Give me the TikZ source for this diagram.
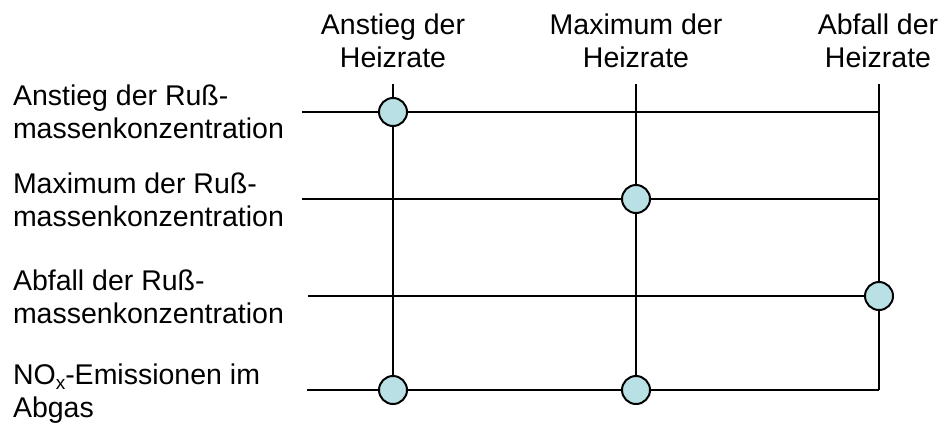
\documentclass[tikz,border=0pt]{standalone}
\usepackage{fontspec}
\setmainfont{Liberation Sans}
\definecolor{dotfill}{RGB}{185,224,228}
\newcommand{\lowsub}[1]{\raisebox{-5pt}{\fontsize{19}{19}\selectfont #1}}
\begin{document}
\begin{tikzpicture}[x=1pt,y=-1pt,line width=2pt,
  txt/.style={font=\fontsize{28.5}{32.5}\selectfont,inner sep=0pt},
  lbl/.style={txt,align=left,anchor=base west},
  hd/.style={txt,align=center,anchor=base},
  dot/.style={circle,draw,fill=dotfill,minimum size=28pt,inner sep=0pt,line width=2pt}]
\useasboundingbox (0,0) rectangle (949,426);
% column headings (anchor = baseline of last line)
\node[hd] (h1) at (393,67) {Anstieg der\\Heizrate};
\node[hd] (h2) at (636,67) {Maximum der\\Heizrate};
\node[hd] (h3) at (878,67) {Abfall der\\Heizrate};
% row labels
\node[lbl] (l1) at (12,138) {Anstieg der Ruß-\\massenkonzentration};
\node[lbl] (l2) at (12,226) {Maximum der Ruß-\\massenkonzentration};
\node[lbl] (l3) at (12,323) {Abfall der Ruß-\\massenkonzentration};
\node[lbl] (l4) at (12,417) {NO\lowsub{x}-Emissionen im\\Abgas};
% line ends
\coordinate (t1) at (393,84);
\coordinate (t2) at (636,84);
\coordinate (t3) at (879,84);
\coordinate (s1) at (302,112);
\coordinate (s2) at (302,199);
\coordinate (s3) at (308,296);
\coordinate (s4) at (307,390);
\coordinate (e1) at (879,112);
\coordinate (e2) at (879,199);
\coordinate (b1) at (393,390);
\coordinate (b2) at (636,390);
\coordinate (corner) at (879,390);
\coordinate (m3) at (879,296);
% lines
\draw (t1) -- (b1);
\draw (t2) -- (b2);
\draw (t3) -- (corner);
\draw (s1) -- (e1);
\draw (s2) -- (e2);
\draw (s3) -- (m3);
\draw (s4) -- (corner);
% dots
\node[dot] (d1) at (393,112) {};
\node[dot] (d2) at (636,199) {};
\node[dot] (d3) at (m3) {};
\node[dot] (d4) at (b1) {};
\node[dot] (d5) at (b2) {};
\end{tikzpicture}
\end{document}
